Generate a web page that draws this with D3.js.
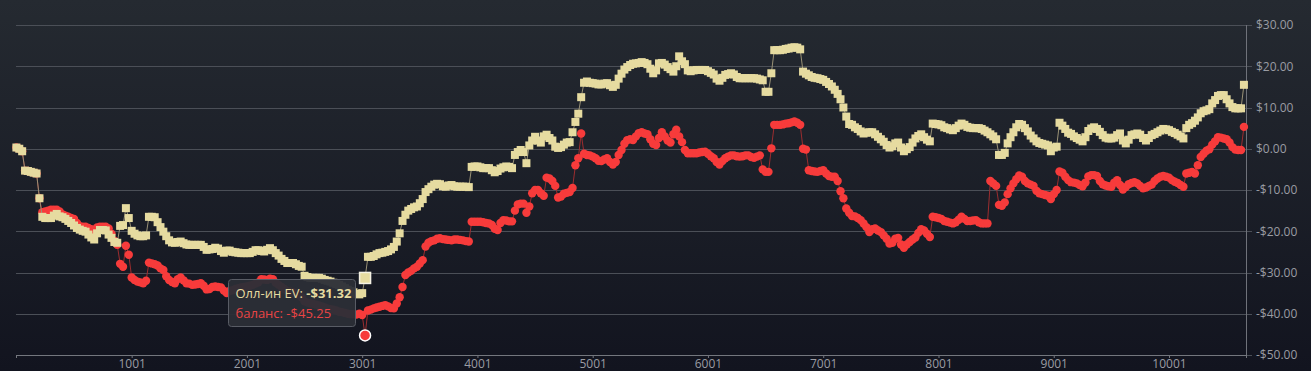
<!DOCTYPE html>
<html>
<head>
<meta charset="utf-8">
<script src="https://cdn.jsdelivr.net/npm/d3@7"></script>
<style>
  body { margin: 0; background: #1b1e26; }
  svg { display: block; font-family: "Open Sans", sans-serif; }
</style>
</head>
<body>
<svg id="chart" width="1311" height="371"></svg>
<script>
const HAND_STEP = 25;

const evValues = [
  0.3, 0.0, -0.6, -5.3, -5.4, -5.6, -5.8, -6.0, -12.0, -16.5,
  -16.8, -16.8, -16.8, -16.2, -15.8, -16.4, -16.6, -17.0, -17.5, -18.0,
  -18.6, -19.2, -19.6, -19.9, -20.1, -20.8, -21.5, -22.0, -20.5, -19.7,
  -19.7, -19.8, -20.8, -21.6, -22.6, -22.8, -18.7, -18.5, -14.4, -16.8,
  -19.9, -20.6, -21.0, -21.2, -21.2, -21.0, -16.5, -16.5, -16.6, -17.8,
  -19.0, -20.1, -21.2, -22.2, -22.7, -22.8, -22.6, -22.5, -22.9, -23.2,
  -23.3, -23.3, -23.3, -23.3, -23.3, -23.8, -24.5, -24.4, -24.3, -24.0,
  -24.2, -24.8, -25.2, -24.7, -24.7, -25.0, -25.1, -25.2, -25.3, -25.3,
  -25.3, -25.3, -25.0, -24.6, -24.6, -24.8, -24.9, -24.5, -24.1, -24.6,
  -25.3, -25.9, -26.7, -27.2, -27.7, -27.7, -27.7, -28.0, -28.4, -28.6,
  -30.8, -31.1, -31.3, -31.3, -31.3, -31.3, -31.5, -31.8, -32.0, -32.2,
  -32.5, -32.8, -33.0, -33.4, -33.8, -34.2, -34.5, -34.8, -35.2, -35.3,
  -35.0, -31.32, -26.2, -26.2, -26.0, -25.6, -25.3, -25.2, -25.0, -24.8,
  -24.4, -23.8, -22.5, -20.5, -17.5, -16.0, -15.0, -14.6, -14.2, -14.0,
  -13.2, -12.2, -10.5, -9.8, -9.2, -8.7, -8.5, -8.6, -9.1, -9.2,
  -8.9, -8.8, -9.1, -9.2, -9.2, -9.2, -9.2, -9.3, -4.4, -4.3,
  -4.3, -4.5, -4.7, -4.7, -4.7, -5.2, -5.7, -5.4, -4.8, -4.5,
  -4.3, -4.4, -4.7, -1.5, -0.8, -0.3, -0.8, -3.5, 0.8, 2.0,
  2.9, 2.0, 1.5, 3.0, 3.4, 2.6, 2.0, 0.5, 0.2, 0.4,
  1.0, 1.5, 1.6, 4.0, 6.5, 8.5, 12.5, 16.0, 16.3, 16.0,
  15.9, 15.8, 15.6, 15.6, 15.8, 15.9, 15.4, 15.0, 15.5, 17.0,
  18.2, 19.2, 19.8, 20.3, 20.6, 20.7, 20.8, 21.0, 20.8, 20.5,
  19.4, 18.3, 19.0, 20.7, 20.8, 20.4, 19.8, 19.3, 18.7, 20.0,
  22.4, 21.2, 20.5, 19.0, 18.8, 19.0, 19.1, 19.1, 19.1, 19.1,
  18.8, 18.4, 18.0, 17.0, 16.5, 17.2, 17.9, 18.1, 18.3, 18.0,
  17.4, 17.1, 17.1, 17.1, 17.1, 17.1, 17.1, 17.0, 16.8, 16.6,
  13.8, 13.8, 18.3, 23.9, 23.9, 23.9, 24.0, 24.2, 24.3, 24.5,
  24.6, 24.5, 24.1, 18.7, 18.2, 17.8, 17.4, 17.2, 17.1, 16.9,
  16.7, 16.2, 15.7, 15.1, 14.3, 13.3, 12.0, 10.0, 7.8, 6.0,
  5.8, 5.2, 4.8, 4.2, 3.7, 3.9, 4.0, 4.0, 3.5, 2.9,
  2.3, 1.7, 0.9, 0.3, 0.6, 1.3, 1.5, 0.3, -0.6, -0.1,
  0.4, 1.5, 2.5, 3.1, 3.5, 2.8, 2.2, 1.8, 6.1, 6.0,
  5.9, 5.7, 5.2, 5.0, 4.7, 4.5, 5.0, 5.6, 6.1, 5.8,
  5.3, 5.1, 5.0, 5.0, 5.0, 4.8, 4.4, 4.0, 3.5, 3.0,
  2.3, -1.5, -1.5, -1.0, 1.3, 2.8, 4.0, 5.2, 6.0, 5.8,
  5.0, 4.2, 3.2, 2.5, 1.8, 1.4, 1.2, 1.0, 0.8, -0.6,
  0.3, 0.5, 6.3, 5.6, 4.8, 3.9, 3.6, 3.0, 2.6, 2.2,
  1.8, 2.8, 4.3, 4.9, 5.2, 4.8, 4.1, 3.3, 2.7, 2.5,
  2.5, 2.7, 3.3, 3.7, 2.0, 1.3, 2.2, 3.3, 3.5, 3.7,
  3.4, 2.6, 2.0, 2.6, 3.3, 3.6, 4.0, 4.4, 4.8, 4.7,
  4.5, 4.1, 3.8, 3.4, 3.0, 2.5, 5.0, 5.8, 6.2, 6.8,
  7.6, 8.6, 9.1, 9.3, 9.6, 11.0, 11.8, 12.8, 13.0, 13.0,
  12.0, 11.0, 10.1, 9.8, 9.8, 9.8, 15.5
];

const balanceValues = [
  0.3, 0.0, -0.6, -5.3, -5.4, -5.6, -5.8, -6.0, -12.0, -15.4,
  -15.2, -15.0, -14.8, -14.8, -14.8, -15.2, -15.9, -16.2, -16.5, -16.8,
  -17.0, -18.0, -18.8, -18.9, -18.9, -19.2, -19.5, -19.7, -19.1, -18.9,
  -18.9, -18.9, -19.3, -20.6, -22.3, -23.3, -27.9, -28.6, -23.5, -25.7,
  -31.2, -31.8, -32.2, -32.4, -32.6, -32.0, -27.6, -27.8, -28.0, -28.3,
  -29.0, -29.4, -30.9, -31.8, -32.3, -32.6, -31.6, -31.2, -31.9, -32.6,
  -32.7, -33.0, -32.9, -32.8, -32.6, -33.2, -34.1, -34.0, -33.5, -33.4,
  -33.5, -33.6, -34.4, -35.0, -34.5, -34.3, -34.0, -33.8, -33.6, -33.5,
  -33.4, -33.2, -33.0, -32.7, -32.4, -31.6, -31.7, -31.8, -31.5, -31.6,
  -32.5, -33.0, -33.5, -34.0, -34.5, -34.6, -34.8, -35.0, -35.5, -36.0,
  -37.0, -37.3, -37.5, -37.6, -37.8, -38.0, -38.2, -38.5, -38.8, -38.9,
  -39.0, -39.2, -39.5, -39.6, -39.8, -40.0, -40.1, -40.1, -40.2, -40.0,
  -40.3, -45.25, -39.2, -39.0, -38.7, -38.5, -38.3, -38.1, -37.9, -38.2,
  -38.6, -38.7, -37.5, -36.0, -33.5, -30.6, -30.0, -29.6, -29.0, -28.6,
  -27.8, -27.0, -23.7, -22.8, -22.4, -22.2, -21.8, -21.7, -21.9, -22.0,
  -22.1, -22.2, -22.0, -22.0, -22.1, -22.2, -22.4, -22.5, -17.7, -17.7,
  -17.7, -17.7, -17.8, -18.0, -18.1, -18.5, -19.4, -19.7, -18.0, -17.3,
  -17.4, -17.6, -17.6, -15.0, -13.5, -13.3, -13.3, -15.5, -14.0, -10.8,
  -10.0, -10.0, -10.8, -11.4, -7.0, -7.2, -7.8, -9.0, -11.8, -11.6,
  -10.9, -10.7, -10.5, -9.5, -4.0, -2.3, 3.7, -1.2, -1.5, -1.6,
  -1.9, -2.3, -2.9, -3.0, -2.6, -2.3, -3.2, -3.8, -3.2, -1.5,
  -0.3, 1.2, 2.1, 2.3, 2.1, 3.0, 3.8, 4.0, 3.7, 3.5,
  2.3, 1.2, 0.9, 2.6, 4.0, 3.0, 2.0, 1.5, 3.5, 4.6,
  3.0, 1.6, -0.3, -1.1, -1.1, -1.1, -1.1, -0.9, -0.8, -0.7,
  -1.2, -1.8, -2.3, -3.2, -3.8, -3.0, -2.3, -1.9, -1.6, -1.6,
  -1.8, -1.9, -1.8, -1.6, -1.6, -2.0, -2.2, -1.9, -1.6, -5.0,
  -5.6, -5.6, 0.1, 5.8, 5.8, 5.8, 5.9, 6.1, 6.2, 6.4,
  6.6, 6.3, 5.8, 0.0, -0.2, -5.2, -5.4, -5.5, -5.6, -5.4,
  -5.2, -6.0, -6.6, -6.8, -6.8, -7.8, -10.3, -12.0, -14.5, -15.5,
  -16.3, -16.4, -16.8, -17.3, -18.1, -19.0, -20.2, -19.5, -19.3, -19.8,
  -20.2, -21.0, -21.8, -23.0, -22.8, -21.8, -21.6, -23.2, -24.0, -23.2,
  -22.6, -22.0, -21.5, -20.4, -19.5, -19.8, -20.6, -21.4, -16.5, -16.6,
  -16.8, -17.0, -17.5, -17.7, -17.9, -18.1, -17.8, -17.2, -16.5, -17.0,
  -17.5, -17.5, -17.4, -17.3, -17.8, -18.1, -18.1, -18.1, -7.8, -8.4,
  -9.0, -13.6, -13.8, -13.0, -11.0, -9.6, -8.4, -7.4, -6.5, -6.8,
  -7.8, -8.4, -8.7, -9.0, -10.2, -10.8, -11.0, -11.2, -11.4, -12.2,
  -11.0, -10.0, -5.5, -5.8, -6.8, -7.6, -8.1, -8.2, -8.4, -8.8,
  -9.1, -8.2, -6.7, -6.4, -6.4, -6.6, -7.8, -8.6, -8.9, -9.1,
  -9.2, -8.2, -7.6, -8.8, -9.9, -9.3, -8.6, -8.3, -8.1, -8.4,
  -9.0, -9.6, -9.4, -9.0, -8.7, -7.8, -7.2, -6.8, -6.6, -6.8,
  -7.0, -7.6, -8.0, -8.3, -8.8, -9.2, -6.0, -5.8, -5.6, -6.0,
  -4.0, -2.0, -1.2, -0.5, -0.1, 1.0, 1.8, 2.8, 2.7, 2.5,
  2.3, 1.5, 0.4, -0.2, -0.3, -0.3, 5.3
];

const xTicks = [1001, 2001, 3001, 4001, 5001, 6001, 7001, 8001, 9001, 10001];
const yTicks = [30, 20, 10, 0, -10, -20, -30, -40, -50];
const seriesNames = ["Олл-ин EV", "баланс"];
const hoverIndex = 121; // point under the tooltip

const hands = evValues.map((_, i) => 1 + i * HAND_STEP);
const evData = hands.map((h, i) => ({ hand: h, value: evValues[i] }));
const balData = hands.map((h, i) => ({ hand: h, value: balanceValues[i] }));

const W = 1311, H = 371;
const plot = { left: 16.4, right: 1246, top: 25, bottom: 355 };

const EV_COLOR = "#e6dba0";
const BAL_COLOR = "#f73b3b";

const svg = d3.select("#chart");

// background
const defs = svg.append("defs");
const grad = defs.append("linearGradient")
  .attr("id", "bg").attr("x1", 0).attr("y1", 0).attr("x2", 0).attr("y2", 1);
grad.append("stop").attr("offset", "0%").attr("stop-color", "#252a31");
grad.append("stop").attr("offset", "100%").attr("stop-color", "#12141f");
svg.append("rect").attr("width", W).attr("height", H).attr("fill", "url(#bg)");

const x = d3.scaleLinear().domain([1, 10669]).range([plot.left, plot.right]);
const y = d3.scaleLinear().domain([-50, 30]).range([plot.bottom, plot.top]);

const fmtMoney = v => (v < 0 ? "-$" : "$") + Math.abs(v).toFixed(2);

// horizontal grid + right axis labels
const yAxis = d3.axisRight(y)
  .tickValues(yTicks)
  .tickSize(plot.right - plot.left + 6)
  .tickPadding(4)
  .tickFormat(fmtMoney);
const gy = svg.append("g")
  .attr("transform", `translate(${plot.left},0)`)
  .call(yAxis);
gy.select(".domain").remove();
gy.selectAll(".tick line")
  .attr("stroke", "#4b4f57")
  .attr("shape-rendering", "crispEdges");
gy.selectAll(".tick text")
  .attr("fill", "#9a9ca3")
  .attr("font-size", 12)
  .attr("font-family", "Open Sans");

// vertical right axis line
svg.append("line")
  .attr("x1", plot.right).attr("x2", plot.right)
  .attr("y1", plot.top).attr("y2", plot.bottom)
  .attr("stroke", "#6f727a")
  .attr("shape-rendering", "crispEdges");

// bottom axis
const xAxis = d3.axisBottom(x)
  .tickValues(xTicks)
  .tickSize(3)
  .tickPadding(1)
  .tickFormat(d3.format("d"));
const gx = svg.append("g")
  .attr("transform", `translate(0,${plot.bottom})`)
  .call(xAxis);
gx.select(".domain")
  .attr("stroke", "#74777e")
  .attr("shape-rendering", "crispEdges");
gx.selectAll(".tick line").attr("stroke", "#74777e");
gx.selectAll(".tick text")
  .attr("fill", "#9a9ca3")
  .attr("font-size", 12)
  .attr("font-family", "Open Sans");

// series
const line = d3.line().x(d => x(d.hand)).y(d => y(d.value));

const balG = svg.append("g");
balG.append("path")
  .datum(balData)
  .attr("d", line)
  .attr("fill", "none")
  .attr("stroke", "#9c2d2f")
  .attr("stroke-width", 1);
balG.selectAll("circle")
  .data(balData)
  .join("circle")
  .attr("cx", d => x(d.hand))
  .attr("cy", d => y(d.value))
  .attr("r", 4.2)
  .attr("fill", BAL_COLOR);

const evG = svg.append("g");
evG.append("path")
  .datum(evData)
  .attr("d", line)
  .attr("fill", "none")
  .attr("stroke", "#9a9276")
  .attr("stroke-width", 1);
const sq = 8;
evG.selectAll("rect")
  .data(evData)
  .join("rect")
  .attr("x", d => x(d.hand) - sq / 2)
  .attr("y", d => y(d.value) - sq / 2)
  .attr("width", sq)
  .attr("height", sq)
  .attr("fill", EV_COLOR);

// hover state at the tooltip point
const hp = hoverIndex;
svg.append("rect")
  .attr("x", x(evData[hp].hand) - 5.5)
  .attr("y", y(evData[hp].value) - 5.5)
  .attr("width", 11).attr("height", 11)
  .attr("fill", EV_COLOR)
  .attr("stroke", "#f4f1e4")
  .attr("stroke-width", 1.5);
svg.append("circle")
  .attr("cx", x(balData[hp].hand))
  .attr("cy", y(balData[hp].value))
  .attr("r", 5.5)
  .attr("fill", BAL_COLOR)
  .attr("stroke", "#ffffff")
  .attr("stroke-width", 1.5);

// tooltip
const tip = svg.append("g").attr("transform", "translate(228.5,279.5)");
tip.append("rect")
  .attr("width", 127).attr("height", 47).attr("rx", 3)
  .attr("fill", "#2b2e37").attr("fill-opacity", 0.95)
  .attr("stroke", "#595c65");
const t1 = tip.append("text").attr("x", 7).attr("y", 18.5)
  .attr("font-size", 13).attr("fill", EV_COLOR);
t1.append("tspan").text(seriesNames[0] + ": ");
t1.append("tspan").attr("font-weight", "bold").text(fmtMoney(evData[hp].value));
tip.append("text").attr("x", 7).attr("y", 38.5)
  .attr("font-size", 13).attr("fill", "#e84444")
  .text(seriesNames[1] + ": " + fmtMoney(balData[hp].value));
</script>
</body>
</html>
